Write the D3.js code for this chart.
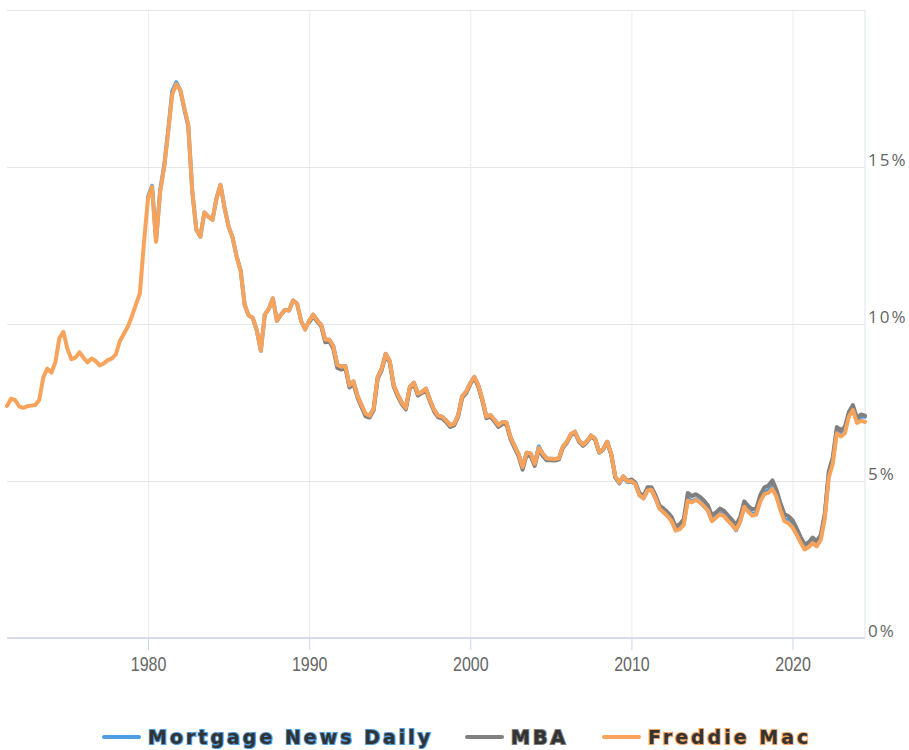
<!DOCTYPE html>
<html>
<head>
<meta charset="utf-8">
<script src="https://cdn.jsdelivr.net/npm/d3@7"></script>
<style>
  body { margin: 0; background: #fff; }
</style>
</head>
<body>
<div id="chart"></div>
<script>
// declaration
const w = 909;
const h = 750;
const yearTicks = [1980, 1990, 2000, 2010, 2020];
const rateTicks = [0, 5, 10, 15, 20];
const seriesNames = ["Mortgage News Daily", "MBA", "Freddie Mac"];
const seriesColors = ["#4d9de0", "#808080", "#f7a35c"];

// quarterly averages, first quarter given by the start month
const freddieStart = "1971-04";
const freddie = [
  7.39, 7.62, 7.58,
  7.38, 7.33, 7.38, 7.40,
  7.42, 7.58, 8.30, 8.58,
  8.45, 8.78, 9.55, 9.75,
  9.20, 8.88, 8.93, 9.10,
  8.92, 8.78, 8.90, 8.82,
  8.68, 8.74, 8.85, 8.90,
  9.03, 9.45, 9.68, 9.92,
  10.25, 10.62, 10.98, 12.6,
  14.0, 14.37, 12.62, 14.2,
  15.0, 16.1, 17.3, 17.64,
  17.45, 16.9, 16.35, 14.2,
  13.0, 12.78, 13.55, 13.42,
  13.32, 14.0, 14.43, 13.7,
  13.1, 12.75, 12.15, 11.7,
  10.6, 10.27, 10.2, 9.8,
  9.15, 10.3, 10.48, 10.82,
  10.1, 10.3, 10.45, 10.43,
  10.75, 10.65, 10.1, 9.83,
  10.1, 10.3, 10.12, 9.97,
  9.5, 9.5, 9.3, 8.7,
  8.64, 8.66, 8.05, 8.17,
  7.71, 7.42, 7.15, 7.08,
  7.3, 8.3, 8.57, 9.05,
  8.82, 8.05, 7.76, 7.5,
  7.33, 8.0, 8.13, 7.78,
  7.84, 7.94, 7.58, 7.27,
  7.08, 7.05, 6.93, 6.78,
  6.82, 7.1, 7.7, 7.85,
  8.12, 8.32, 8.05, 7.6,
  7.05, 7.1, 6.95, 6.78,
  6.88, 6.86, 6.4, 6.12,
  5.85, 5.45, 5.9, 5.88,
  5.55, 6.05, 5.87, 5.72,
  5.71, 5.70, 5.72, 6.1,
  6.25, 6.5, 6.57, 6.28,
  6.16, 6.27, 6.45, 6.35,
  5.92, 6.02, 6.25, 5.85,
  5.15, 4.95, 5.14, 4.98,
  5.0, 4.9, 4.55, 4.45,
  4.7, 4.72, 4.45, 4.12,
  4.0, 3.88, 3.72, 3.42,
  3.47, 3.6, 4.38, 4.32,
  4.4, 4.32, 4.2, 4.06,
  3.72, 3.83, 3.94, 3.88,
  3.73, 3.6, 3.45, 3.7,
  4.18, 4.02, 3.9, 3.93,
  4.35, 4.58, 4.62, 4.75,
  4.5, 4.08, 3.72, 3.66,
  3.52, 3.3, 3.04, 2.82,
  2.9, 3.02, 2.92, 3.12,
  3.8, 5.1, 5.55, 6.52,
  6.42, 6.52, 7.05, 7.26,
  6.85, 6.92, 6.88
];

const mndStart = "1980-01";
const mnd = [
  14.05, 14.4, 12.65, 14.25,
  15.05, 16.15, 17.4, 17.7,
  17.45, 16.85, 16.3, 14.2,
  13.0, 12.78, 13.55, 13.42,
  13.32, 14.0, 14.43, 13.7,
  13.1, 12.75, 12.15, 11.7,
  10.6, 10.27, 10.2, 9.8,
  9.15, 10.3, 10.48, 10.82,
  10.1, 10.3, 10.45, 10.43,
  10.75, 10.65, 10.1, 9.83,
  10.1, 10.3, 10.12, 9.97,
  9.5, 9.5, 9.3, 8.7,
  8.64, 8.66, 8.05, 8.17,
  7.71, 7.42, 7.12, 7.08,
  7.3, 8.3, 8.57, 9.05,
  8.82, 8.05, 7.76, 7.5,
  7.33, 8.0, 8.13, 7.78,
  7.84, 7.94, 7.58, 7.27,
  7.08, 7.05, 6.93, 6.78,
  6.82, 7.1, 7.7, 7.85,
  8.12, 8.32, 8.05, 7.6,
  7.05, 7.1, 6.95, 6.78,
  6.88, 6.86, 6.4, 6.12,
  5.85, 5.45, 5.9, 5.88,
  5.55, 6.1, 5.87, 5.72,
  5.71, 5.70, 5.72, 6.1,
  6.25, 6.5, 6.57, 6.28,
  6.16, 6.27, 6.45, 6.35,
  5.92, 6.02, 6.25, 5.85,
  5.12, 4.92, 5.12, 4.96,
  4.98, 4.9, 4.55, 4.45,
  4.72, 4.72, 4.45, 4.12,
  4.0, 3.9, 3.74, 3.45,
  3.5, 3.65, 4.45, 4.35,
  4.42, 4.33, 4.2, 4.06,
  3.75, 3.86, 3.98, 3.9,
  3.75, 3.62, 3.43, 3.72,
  4.2, 4.05, 3.95, 3.98,
  4.45, 4.65, 4.7, 4.85,
  4.55, 4.15, 3.8, 3.75,
  3.6, 3.4, 3.1, 2.9,
  2.98, 3.1, 3.0, 3.2,
  3.9, 5.2, 5.65, 6.6,
  6.55, 6.65, 7.15, 7.35,
  6.95, 7.05, 7.05
];

const mbaStart = "1990-01";
const mba = [
  10.05, 10.25, 10.08, 9.93,
  9.42, 9.45, 9.22, 8.6,
  8.55, 8.6, 7.98, 8.1,
  7.65, 7.36, 7.06, 7.02,
  7.25, 8.25, 8.52, 9.0,
  8.78, 8.0, 7.7, 7.45,
  7.28, 7.95, 8.08, 7.72,
  7.8, 7.9, 7.53, 7.22,
  7.03, 7.0, 6.88, 6.72,
  6.77, 7.05, 7.65, 7.8,
  8.08, 8.28, 8.0, 7.55,
  7.0, 7.05, 6.9, 6.72,
  6.82, 6.8, 6.33, 6.05,
  5.78, 5.36, 5.83, 5.8,
  5.48, 6.0, 5.8, 5.66,
  5.66, 5.65, 5.68, 6.06,
  6.22, 6.46, 6.54, 6.25,
  6.12, 6.24, 6.42, 6.32,
  5.9, 6.0, 6.24, 5.84,
  5.12, 4.95, 5.15, 5.0,
  5.05, 4.95, 4.62, 4.52,
  4.8, 4.8, 4.55, 4.22,
  4.12, 4.0, 3.85, 3.55,
  3.62, 3.78, 4.62, 4.52,
  4.58, 4.5, 4.38, 4.22,
  3.9, 4.0, 4.12, 4.05,
  3.9, 3.76, 3.6, 3.85,
  4.35, 4.2, 4.1, 4.12,
  4.55, 4.8, 4.85, 5.02,
  4.72, 4.3, 3.95, 3.88,
  3.75, 3.5, 3.22, 2.98,
  3.05, 3.2, 3.08, 3.28,
  3.95, 5.3, 5.75, 6.72,
  6.62, 6.72, 7.2, 7.42,
  7.0, 7.12, 7.08
];

// turn a start month + quarterly values into points
const parseMonth = d3.timeParse("%Y-%m");
const toPoints = (start, values) => values.map((v, i) => ({
  date: d3.timeMonth.offset(parseMonth(start), 3 * i),
  value: v
}));

const series = [
  toPoints(mndStart, mnd),
  toPoints(mbaStart, mba),
  toPoints(freddieStart, freddie)
];

const plot = { left: 7, right: 865, top: 10, bottom: 638 };

const svg = d3.select("#chart")
  .append("svg")
  .attr("width", w)
  .attr("height", h);

// scales
const allPoints = series.flat();
const x = d3.scaleTime()
  .domain(d3.extent(allPoints, d => d.date))
  .range([plot.left, plot.right]);

const y = d3.scaleLinear()
  .domain([0, 20])
  .range([plot.bottom, plot.top]);

// vertical grid
svg.append("g")
  .attr("transform", `translate(0,${plot.bottom})`)
  .call(d3.axisBottom(x)
    .tickValues(yearTicks.map(yr => new Date(yr, 0, 1)))
    .tickSize(-(plot.bottom - plot.top))
    .tickFormat(""))
  .call(g => g.select(".domain").remove())
  .call(g => g.selectAll("line").attr("stroke", "#ececec"));

// horizontal grid + right labels
svg.append("g")
  .attr("transform", `translate(${plot.right},0)`)
  .call(d3.axisRight(y)
    .tickValues(rateTicks)
    .tickSize(-(plot.right - plot.left))
    .tickPadding(3)
    .tickFormat(d => d === 20 ? "" : d + "%"))
  .call(g => g.select(".domain").remove())
  .call(g => g.selectAll("line").attr("stroke", "#e6e6e6"))
  .call(g => g.selectAll("text")
    .attr("y", -7)
    .attr("fill", "#666")
    .style("font-family", "'Open Sans', sans-serif")
    .style("font-size", "17px")
    .style("letter-spacing", "2px"));

// right edge line
svg.append("line")
  .attr("x1", plot.right).attr("x2", plot.right)
  .attr("y1", plot.top).attr("y2", plot.bottom)
  .attr("stroke", "#dfe4f2");

// bottom axis
svg.append("g")
  .attr("transform", `translate(0,${plot.bottom})`)
  .call(d3.axisBottom(x)
    .tickValues(yearTicks.map(yr => new Date(yr, 0, 1)))
    .tickSize(12)
    .tickPadding(7)
    .tickFormat(d3.timeFormat("%Y")))
  .call(g => g.select(".domain")
    .attr("stroke", "#ccd6eb")
    .attr("stroke-width", 1.5)
    .attr("d", `M${plot.left},0H${plot.right}`))
  .call(g => g.selectAll("line").attr("stroke", "#ccd6eb"))
  .call(g => g.selectAll("text")
    .attr("fill", "#666")
    .attr("transform", "scale(0.8,1)")
    .style("font-family", "'Liberation Sans', sans-serif")
    .style("font-size", "20px"));

// lines
const line = d3.line()
  .x(d => x(d.date))
  .y(d => y(d.value));

svg.append("g")
  .selectAll("path")
  .data(series)
  .enter()
  .append("path")
  .attr("d", line)
  .attr("fill", "none")
  .attr("stroke", (d, i) => seriesColors[i])
  .attr("stroke-width", 4)
  .attr("stroke-linejoin", "round")
  .attr("stroke-linecap", "round");

// legend
const legendX = [104, 467, 604];
const legend = svg.append("g")
  .attr("transform", "translate(0,737)");

const item = legend.selectAll("g")
  .data(seriesNames)
  .enter()
  .append("g")
  .attr("transform", (d, i) => `translate(${legendX[i]},0)`);

item.append("line")
  .attr("x1", 0).attr("x2", 35)
  .attr("stroke", (d, i) => seriesColors[i])
  .attr("stroke-width", 4)
  .attr("stroke-linecap", "round");

item.append("text")
  .attr("x", 44)
  .attr("y", 7)
  .text(d => d)
  .attr("fill", "#333")
  .attr("stroke", (d, i) => seriesColors[i])
  .attr("stroke-width", 2)
  .style("paint-order", "stroke")
  .style("font-family", "'DejaVu Sans', sans-serif")
  .style("font-weight", "bold")
  .style("font-size", "19px")
  .style("letter-spacing", "3px");
</script>
</body>
</html>
